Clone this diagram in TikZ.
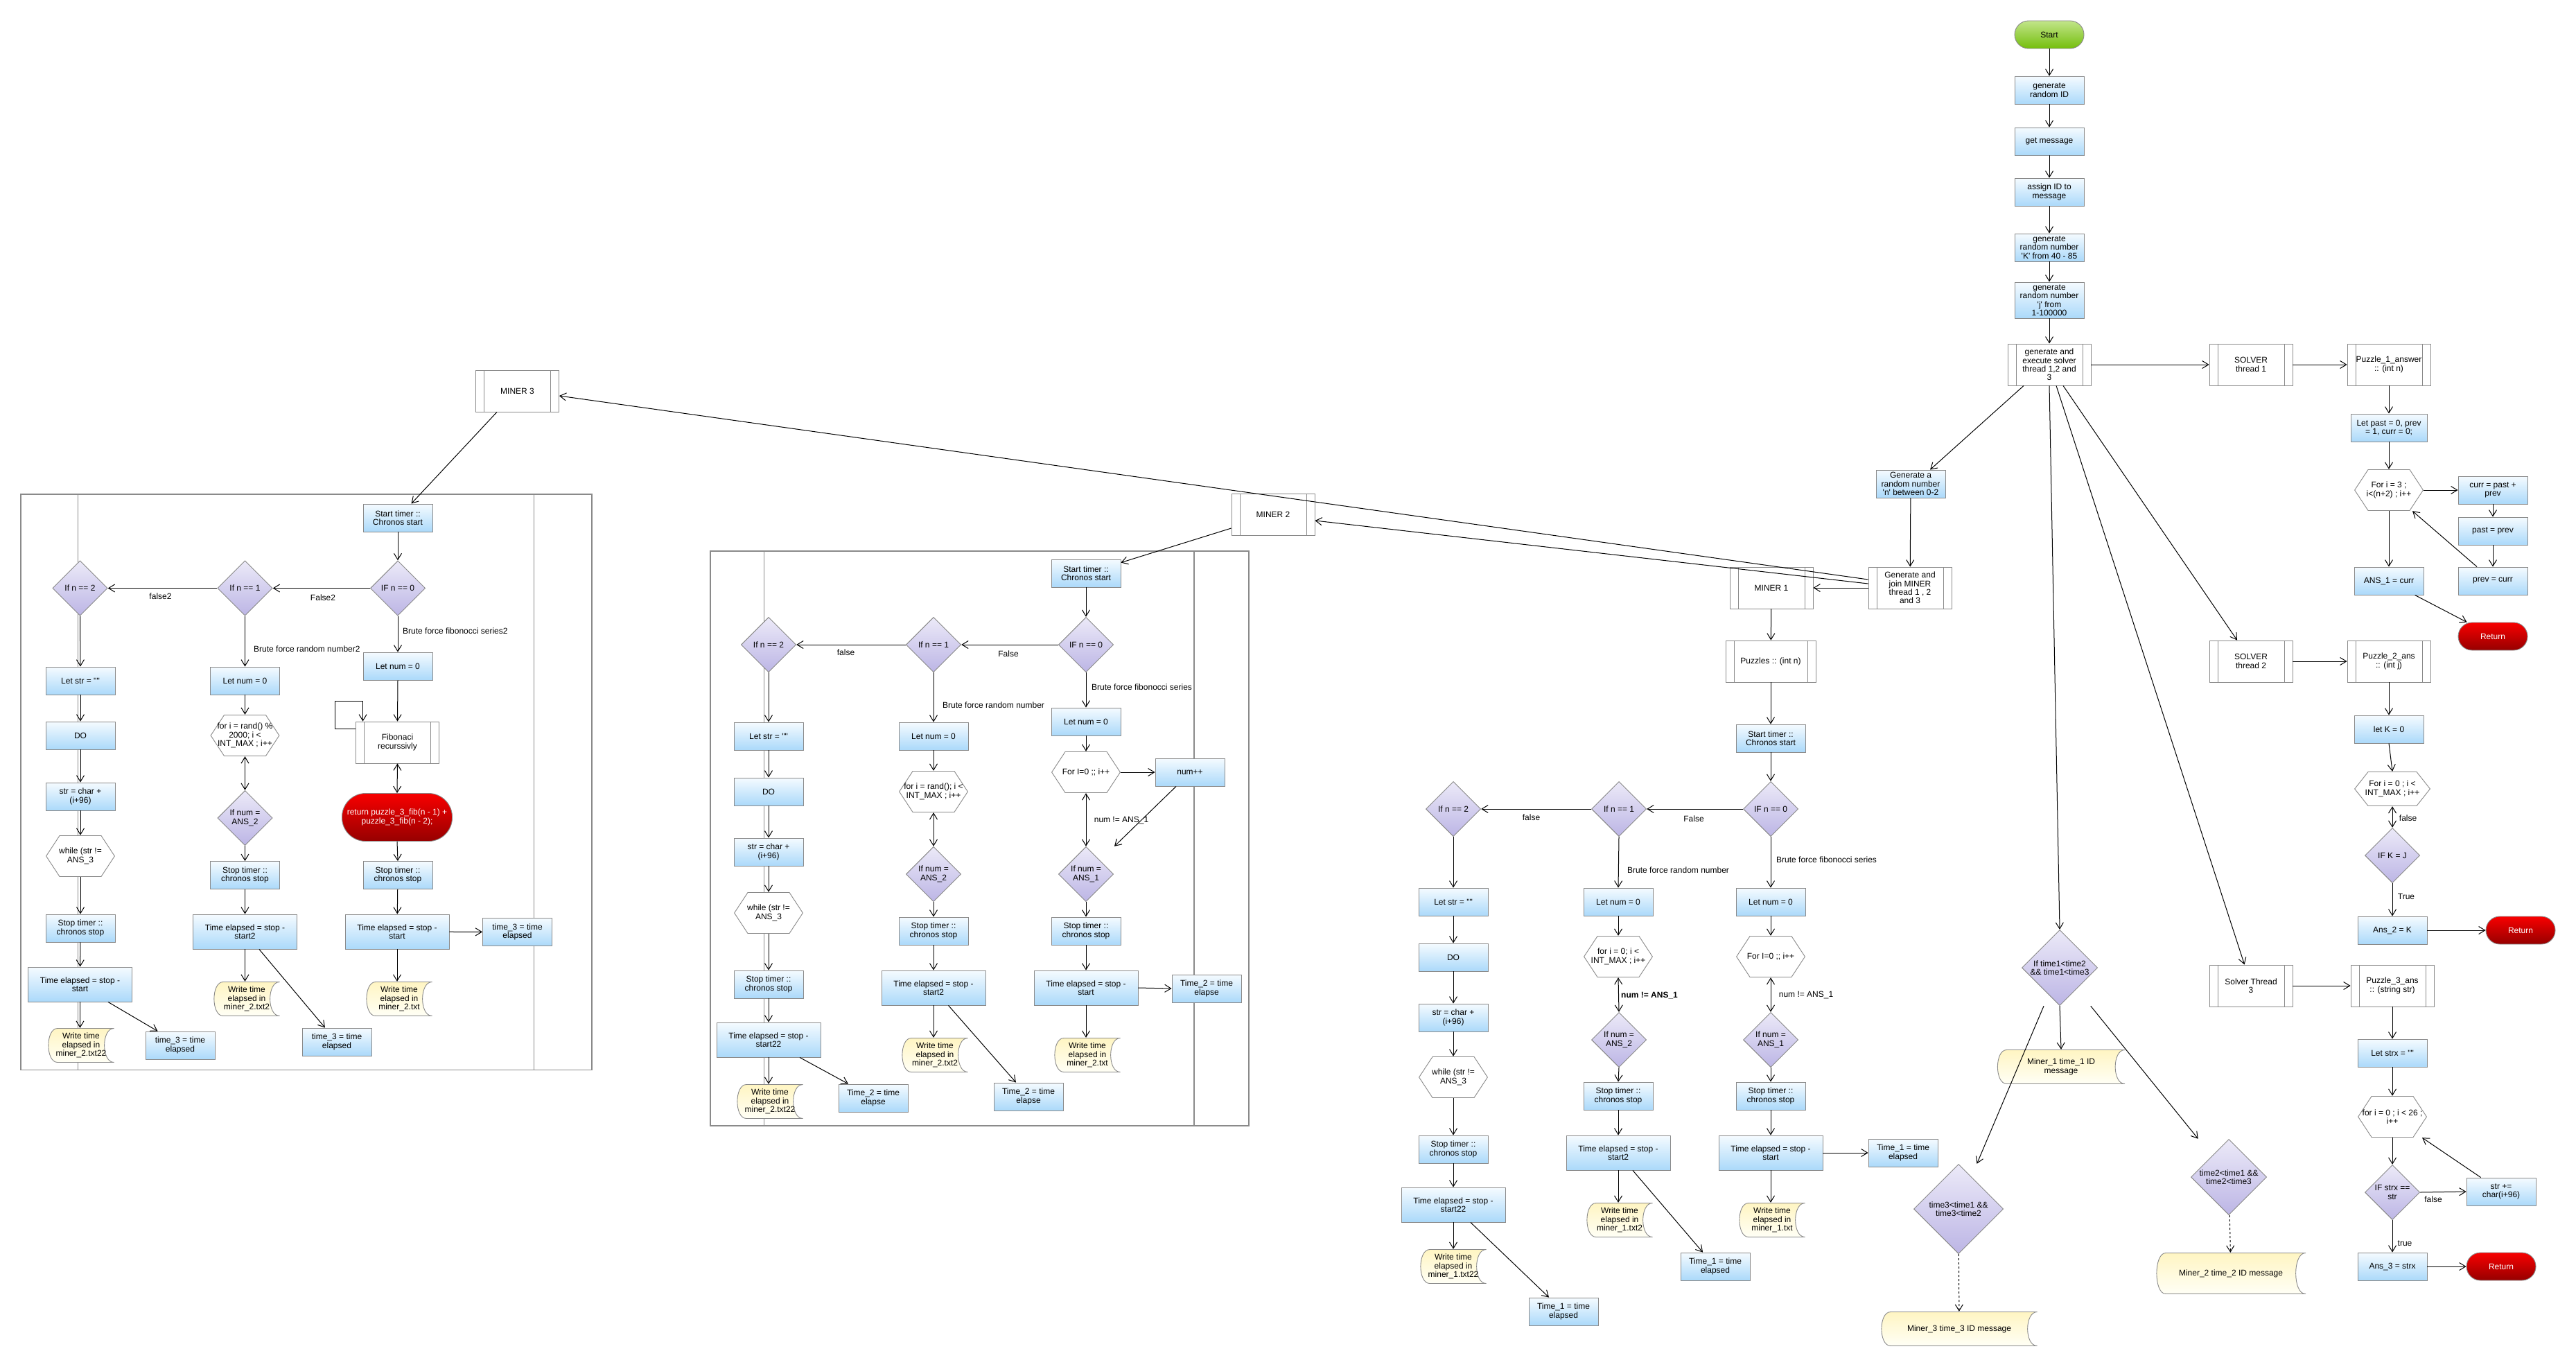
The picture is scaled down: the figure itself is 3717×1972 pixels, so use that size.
\documentclass[tikz,border=0pt]{standalone}
\usepackage{fontspec}
\setmainfont{Liberation Sans}
\usetikzlibrary{arrows.meta,calc}

\definecolor{bord}{HTML}{8A8A8A}
\definecolor{procTop}{HTML}{F5FBFF}
\definecolor{procBot}{HTML}{ABD9FA}
\definecolor{diaTop}{HTML}{ECEAF8}
\definecolor{diaBot}{HTML}{BCB5E5}
\definecolor{stTop}{HTML}{FFF5C2}
\definecolor{stBot}{HTML}{FFFFF6}
\definecolor{goTop}{HTML}{C2E58A}
\definecolor{goBot}{HTML}{74BE0C}
\definecolor{endTop}{HTML}{F80000}
\definecolor{endBot}{HTML}{960000}

\newcommand{\fs}{\fontsize{12pt}{12.4pt}\selectfont}
\newcommand{\dq}{\textquotedbl}
\newcommand{\sq}{\textquotesingle}

\tikzset{
  txt/.style={font=\fs, align=center, inner sep=0pt, text=black},
  proc/.style={txt, rectangle, draw=bord, line width=0.9pt, top color=procTop, bottom color=procBot,
    minimum width=100pt, minimum height=40pt},
  pill/.style={txt, rectangle, rounded corners=20pt, draw=bord, line width=0.9pt,
    minimum width=100pt, minimum height=40pt},
  go/.style={pill, top color=goTop, bottom color=goBot},
  halt/.style={pill, top color=endTop, bottom color=endBot, text=white},
  sub/.style={txt, rectangle, draw=bord, line width=0.9pt, fill=white,
    minimum width=120pt, minimum height=60pt,
    path picture={\draw[bord, line width=0.9pt]
      ([xshift=12pt]path picture bounding box.north west) -- ([xshift=12pt]path picture bounding box.south west)
      ([xshift=-12pt]path picture bounding box.north east) -- ([xshift=-12pt]path picture bounding box.south east);}},
  hexa/.style={txt, minimum width=100pt, minimum height=60pt,
    path picture={\filldraw[fill=white, draw=bord, line width=0.9pt]
      ([xshift=0.6pt]path picture bounding box.west)
      -- ([shift={(20pt,-0.5pt)}]path picture bounding box.north west)
      -- ([shift={(-20pt,-0.5pt)}]path picture bounding box.north east)
      -- ([xshift=-0.6pt]path picture bounding box.east)
      -- ([shift={(-20pt,0.5pt)}]path picture bounding box.south east)
      -- ([shift={(20pt,0.5pt)}]path picture bounding box.south west) -- cycle;}},
  dia/.style={txt, minimum width=80pt, minimum height=80pt,
    path picture={\shadedraw[top color=diaTop, bottom color=diaBot, draw=bord, line width=0.9pt]
      ([yshift=-0.6pt]path picture bounding box.north)
      -- ([xshift=-0.6pt]path picture bounding box.east)
      -- ([yshift=0.6pt]path picture bounding box.south)
      -- ([xshift=0.6pt]path picture bounding box.west) -- cycle;}},
  store/.style={txt, minimum width=96pt, minimum height=50pt,
    path picture={\shadedraw[top color=stTop, bottom color=stBot, draw=bord, line width=0.9pt]
      ([shift={(14pt,-0.5pt)}]path picture bounding box.north west)
      -- ([shift={(-0.5pt,-0.5pt)}]path picture bounding box.north east)
      .. controls ([shift={(-19pt,-0.5pt)}]path picture bounding box.north east)
         and ([shift={(-19pt,0.5pt)}]path picture bounding box.south east)
      .. ([shift={(-0.5pt,0.5pt)}]path picture bounding box.south east)
      -- ([shift={(14pt,0.5pt)}]path picture bounding box.south west)
      .. controls ([shift={(-3.5pt,0.5pt)}]path picture bounding box.south west)
         and ([shift={(-3.5pt,-0.5pt)}]path picture bounding box.north west)
      .. ([shift={(14pt,-0.5pt)}]path picture bounding box.north west) -- cycle;}},
  lbl/.style={font=\fs, inner sep=0pt},
  conn/.style={line width=1pt, -{Straight Barb[length=9pt,width=11pt]}},
  twoway/.style={line width=1pt, {Straight Barb[length=9pt,width=11pt]}-{Straight Barb[length=9pt,width=11pt]}},
  frame/.style={draw=bord, line width=1.1pt},
}

\begin{document}
\begin{tikzpicture}[x=1pt, y=-1pt]
\fill[white] (0,0) rectangle (3717,1972);
\useasboundingbox (0,0) rectangle (3717,1972);

% ---------- frames around the miner 2 and miner 3 flows ----------
\draw[frame] (1025,795) rectangle (1802,1624);
\draw[frame] (1102.7,795) -- (1102.7,1624) (1723,795) -- (1723,1624);
\draw[frame] (30,713) rectangle (854,1543.5);
\draw[frame] (112.4,713) -- (112.4,1543.5) (770.6,713) -- (770.6,1543.5);

% ---------- main program ----------
\node[go]   (start)  at (2957,50)  {Start};
\node[proc] (genid)  at (2957,130) {generate\\random ID};
\node[proc] (getmsg) at (2957,204) {get message};
\node[proc] (assign) at (2957,277) {assign ID to\\message};
\node[proc] (genk)   at (2957,357) {generate\\random number\\\sq K\sq\ from 40 - 85};
\node[proc, minimum height=52pt] (genj) at (2957,433) {generate\\random number\\\sq j\sq\ from\\1-100000};
\node[sub]  (genexec) at (2957,526) {generate and\\execute solver\\thread 1,2 and\\3};

% solver thread 1
\node[sub]  (solver1) at (3248,526) {SOLVER\\thread 1};
\node[sub]  (puz1)    at (3447,526) {Puzzle\_1\_answer\\:: (int n)};
\node[proc, minimum width=110pt] (letpast) at (3447,617) {Let past = 0, prev\\= 1, curr = 0;};
\node[hexa] (for1)    at (3447,707) {For i = 3 ;\\i<(n+2) ; i++};
\node[proc] (currbox) at (3597,707) {curr = past +\\prev};
\node[proc] (pastbox) at (3597,766) {past = prev};
\node[proc] (prevbox) at (3597,838) {prev = curr};
\node[proc] (ans1)    at (3447,838) {ANS\_1 = curr};
\node[halt] (ret1)    at (3597,918) {Return};

% solver thread 2
\node[sub]  (solver2) at (3248,954) {SOLVER\\thread 2};
\node[sub]  (puz2)    at (3447,954) {Puzzle\_2\_ans\\:: (int j)};
\node[proc] (letk)    at (3447,1052) {let K = 0};
\node[hexa, minimum width=110pt, minimum height=50pt] (for2) at (3452,1138) {For i = 0 ; i <\\INT\_MAX ; i++};
\node[dia]  (ifkj)    at (3452,1234) {IF K = J};
\node[proc] (ans2)    at (3452,1342) {Ans\_2 = K};
\node[halt] (ret2)    at (3637,1342) {Return};

% solver thread 3
\node[sub]  (solver3) at (3248,1422) {Solver Thread\\3};
\node[sub]  (puz3)    at (3452,1422) {Puzzle\_3\_ans\\:: (string str)};
\node[proc] (letstrx) at (3452,1519) {Let strx = \dq\dq};
\node[hexa] (for3)    at (3452,1611) {for i = 0 ; i < 26 ;\\i++};
\node[dia]  (ifstrx)  at (3452,1720) {IF strx ==\\str};
\node[proc] (strplus) at (3609,1719) {str +=\\char(i+96)};
\node[proc] (ans3)    at (3452,1827) {Ans\_3 = strx};
\node[halt] (ret3)    at (3609,1827) {Return};

% comparison of the miner times
\node[dia, minimum width=110pt, minimum height=110pt] (ift1) at (2972,1396) {If time1<time2\\\&\& time1<time3};
\node[store, minimum width=185pt] (msg1) at (2974,1539) {Miner\_1 time\_1 ID\\message};
\node[dia, minimum width=110pt, minimum height=110pt] (ift2) at (3216,1698) {time2<time1 \&\&\\time2<time3};
\node[store, minimum width=216pt, minimum height=60pt] (msg2) at (3219,1837) {Miner\_2 time\_2 ID message};
\node[dia, minimum width=130pt, minimum height=130pt] (ift3) at (2826,1744) {time3<time1 \&\&\\time3<time2};
\node[store, minimum width=226pt] (msg3) at (2827,1917) {Miner\_3 time\_3 ID message};

% miner threads
\node[proc] (genn)   at (2757,698) {Generate a\\random number\\\sq n\sq\ between 0-2};
\node[sub]  (join)   at (2756,848) {Generate and\\join MINER\\thread 1 , 2\\and 3};
\node[sub]  (miner1) at (2556,848) {MINER 1};
\node[sub]  (miner2) at (1837,742) {MINER 2};
\node[sub]  (miner3) at (746.5,564) {MINER 3};

% ---------- miner 1 ----------
\node[sub, minimum width=130pt] (puzzles) at (2555,954) {Puzzles :: (int n)};
\node[proc] (m1start) at (2555,1065) {Start timer ::\\Chronos start};
\node[dia]  (m1if0)   at (2555,1167) {IF n == 0};
\node[dia]  (m1if1)   at (2336,1167) {If n == 1};
\node[dia]  (m1if2)   at (2097,1167) {If n == 2};
\node[proc] (m1str)   at (2097,1301) {Let str = \dq\dq};
\node[proc] (m1num1)  at (2335,1301) {Let num = 0};
\node[proc] (m1num0)  at (2555,1301) {Let num = 0};
\node[proc] (m1do)    at (2097,1381) {DO};
\node[hexa] (m1for1)  at (2335,1380) {for i = 0; i <\\INT\_MAX ; i++};
\node[hexa] (m1for0)  at (2555,1380) {For I=0 ;; i++};
\node[proc] (m1chr)   at (2097,1468) {str = char +\\(i+96)};
\node[dia]  (m1ifa2)  at (2336,1500) {If num =\\ANS\_2};
\node[dia]  (m1ifa1)  at (2555,1500) {If num =\\ANS\_1};
\node[hexa] (m1while) at (2097,1554) {while (str !=\\ANS\_3};
\node[proc] (m1stop1) at (2335,1581) {Stop timer ::\\chronos stop};
\node[proc] (m1stop0) at (2555,1581) {Stop timer ::\\chronos stop};
\node[proc] (m1stop2) at (2097,1658) {Stop timer ::\\chronos stop};
\node[proc, minimum width=150pt, minimum height=50pt] (m1el1) at (2335,1663) {Time elapsed = stop -\\start2};
\node[proc, minimum width=150pt, minimum height=50pt] (m1el0) at (2555,1663) {Time elapsed = stop -\\start};
\node[proc, minimum width=150pt, minimum height=50pt] (m1el2) at (2097,1738) {Time elapsed = stop -\\start22};
\node[store] (m1w1) at (2337,1760) {Write time\\elapsed in\\miner\_1.txt2};
\node[store] (m1w0) at (2557,1760) {Write time\\elapsed in\\miner\_1.txt};
\node[store] (m1w2) at (2097,1827) {Write time\\elapsed in\\miner\_1.txt22};
\node[proc] (m1t0) at (2746,1663) {Time\_1 = time\\elapsed};
\node[proc] (m1t1) at (2475,1827) {Time\_1 = time\\elapsed};
\node[proc] (m1t2) at (2256,1892) {Time\_1 = time\\elapsed};

\node[lbl] (m1lab1) at (2444,1181) {False};
\node[lbl] (m1lab2) at (2209.5,1179) {false};
\node[lbl, anchor=west] (m1lab3) at (2563,1240) {Brute force fibonocci series};
\node[lbl, anchor=west] (m1lab4) at (2348,1255) {Brute force random number};
\node[lbl, font=\fs\bfseries] (m1lab5) at (2380,1436) {num != ANS\_1};
\node[lbl] (m1lab6) at (2606,1435) {num != ANS\_1};

% ---------- miner 2 ----------
\node[proc] (m2start) at (1567,827) {Start timer ::\\Chronos start};
\node[dia]  (m2if0)   at (1567,930) {IF n == 0};
\node[dia]  (m2if1)   at (1347,930) {If n == 1};
\node[dia]  (m2if2)   at (1109,930) {If n == 2};
\node[proc] (m2num0)  at (1567,1041) {Let num = 0};
\node[hexa] (m2for0)  at (1567,1114) {For I=0 ;; i++};
\node[proc] (m2inc)   at (1717,1114) {num++};
\node[dia]  (m2ifa1)  at (1567,1261) {If num =\\ANS\_1};
\node[proc] (m2str)   at (1109,1062) {Let str = \dq\dq};
\node[proc] (m2num1)  at (1347,1062) {Let num = 0};
\node[proc] (m2do)    at (1109,1142) {DO};
\node[hexa] (m2for1)  at (1347,1142) {for i = rand(); i <\\INT\_MAX ; i++};
\node[proc] (m2chr)   at (1109,1229) {str = char +\\(i+96)};
\node[dia]  (m2ifa2)  at (1347,1261) {If num =\\ANS\_2};
\node[hexa] (m2while) at (1109,1317) {while (str !=\\ANS\_3};
\node[proc] (m2stop1) at (1347,1343) {Stop timer ::\\chronos stop};
\node[proc] (m2stop0) at (1567,1343) {Stop timer ::\\chronos stop};
\node[proc] (m2stop2) at (1109,1420) {Stop timer ::\\chronos stop};
\node[proc, minimum width=150pt, minimum height=50pt] (m2el1) at (1347,1425) {Time elapsed = stop -\\start2};
\node[proc, minimum width=150pt, minimum height=50pt] (m2el0) at (1567,1425) {Time elapsed = stop -\\start};
\node[proc, minimum width=150pt, minimum height=50pt] (m2el2) at (1109,1500) {Time elapsed = stop -\\start22};
\node[store] (m2w1) at (1349,1522) {Write time\\elapsed in\\miner\_2.txt2};
\node[store] (m2w0) at (1569,1522) {Write time\\elapsed in\\miner\_2.txt};
\node[store] (m2w2) at (1111,1589) {Write time\\elapsed in\\miner\_2.txt22};
\node[proc] (m2t0) at (1741,1426) {Time\_2 = time\\elapse};
\node[proc] (m2t1) at (1484,1582) {Time\_2 = time\\elapse};
\node[proc] (m2t2) at (1260,1584) {Time\_2 = time\\elapse};

\node[lbl] (m2lab1) at (1455,943) {False};
\node[lbl] (m2lab2) at (1220.5,941) {false};
\node[lbl, anchor=west] (m2lab3) at (1575,991) {Brute force fibonocci series};
\node[lbl, anchor=west] (m2lab4) at (1360,1017) {Brute force random number};
\node[lbl] (m2lab5) at (1618,1183) {num != ANS\_1};

% ---------- miner 3 ----------
\node[proc] (m3start) at (574,747) {Start timer ::\\Chronos start};
\node[dia]  (m3if0)   at (574,848.5) {IF n == 0};
\node[dia]  (m3if1)   at (353.5,848.5) {If n == 1};
\node[dia]  (m3if2)   at (115.5,848.5) {If n == 2};
\node[proc] (m3num0)  at (574,961) {Let num = 0};
\node[proc] (m3str)   at (116,982) {Let str = \dq\dq};
\node[proc] (m3num1)  at (353.5,982) {Let num = 0};
\node[sub]  (m3fib)   at (573.5,1071) {Fibonaci\\recurssivly};
\node[proc] (m3do)    at (116,1061) {DO};
\node[hexa] (m3for1)  at (353.5,1061) {for i = rand() \%\\2000; i <\\INT\_MAX ; i++};
\node[proc] (m3chr)   at (116,1149) {str = char +\\(i+96)};
\node[dia]  (m3ifa2)  at (353.5,1180) {If num =\\ANS\_2};
\node[halt, minimum width=159pt, minimum height=69pt, rounded corners=34pt] (m3ret) at (573,1179)
  {return puzzle\_3\_fib(n - 1) +\\puzzle\_3\_fib(n - 2);};
\node[hexa] (m3while) at (116,1235) {while (str !=\\ANS\_3};
\node[proc] (m3stop1) at (353.5,1262.5) {Stop timer ::\\chronos stop};
\node[proc] (m3stop0) at (574,1262.5) {Stop timer ::\\chronos stop};
\node[proc] (m3stop2) at (116,1339) {Stop timer ::\\chronos stop};
\node[proc, minimum width=150pt, minimum height=50pt] (m3el1) at (353.5,1344) {Time elapsed = stop -\\start2};
\node[proc, minimum width=150pt, minimum height=50pt] (m3el0) at (573,1344) {Time elapsed = stop -\\start};
\node[proc, minimum width=150pt, minimum height=50pt] (m3el2) at (115.5,1420) {Time elapsed = stop -\\start};
\node[store] (m3w1) at (356,1441) {Write time\\elapsed in\\miner\_2.txt2};
\node[store] (m3w0) at (576,1441) {Write time\\elapsed in\\miner\_2.txt};
\node[store] (m3w2) at (117,1508) {Write time\\elapsed in\\miner\_2.txt22};
\node[proc] (m3t0) at (746.5,1344.5) {time\_3 = time\\elapsed};
\node[proc] (m3t1) at (486,1503) {time\_3 = time\\elapsed};
\node[proc] (m3t2) at (260,1508) {time\_3 = time\\elapsed};

\node[lbl] (m3lab1) at (466,862) {False2};
\node[lbl] (m3lab2) at (231.5,860) {false2};
\node[lbl, anchor=west] (m3lab3) at (581,910) {Brute force fibonocci series2};
\node[lbl, anchor=west] (m3lab4) at (366,936) {Brute force random number2};

% solver labels
\node[lbl] (s2lab1) at (3474.6,1180) {false};
\node[lbl] (s2lab2) at (3472,1293) {True};
\node[lbl] (s3lab1) at (3511,1730) {false};
\node[lbl] (s3lab2) at (3470,1794) {true};

% ---------- connectors: main program ----------
\draw[conn] (start) -- (genid);
\draw[conn] (genid) -- (getmsg);
\draw[conn] (getmsg) -- (assign);
\draw[conn] (assign) -- (genk);
\draw[conn] (genk) -- (genj);
\draw[conn] (genj) -- (genexec);
\draw[conn] (genexec) -- (solver1);
\draw[conn] (solver1) -- (puz1);
\draw[conn] (puz1) -- (letpast);
\draw[conn] (letpast) -- (for1);
\draw[conn] (for1) -- (currbox);
\draw[conn] (currbox) -- (pastbox);
\draw[conn] (pastbox) -- (prevbox);
\draw[conn] (for1) -- (ans1);
\draw[conn] ($(prevbox.north)+(-23,0)$) -- ($(for1.south)+(34,0)$);
\draw[conn] ($(ans1.south)+(37.5,0)$) -- ($(ret1.north west)+(13,0)$);

\draw[conn] ($(genexec.south)+(20,0)$) -- ($(solver2.north)+(-20,0)$);
\draw[conn] ($(genexec.south)+(10,0)$) -- ($(solver3.north)+(-9.4,0)$);
\draw[conn] (genexec.south) -- (ift1.north);
\draw[conn] ($(genexec.south)+(-37,0)$) -- ($(genn.north)+(28,0)$);

\draw[conn] (solver2) -- (puz2);
\draw[conn] (puz2) -- (letk);
\draw[conn] (letk.south) -- (for2.north);
\draw[twoway] (for2) -- (ifkj);
\draw[conn] (ifkj) -- (ans2);
\draw[conn] (ans2) -- (ret2);

\draw[conn] (solver3) -- (puz3);
\draw[conn] (puz3) -- (letstrx);
\draw[conn] (letstrx) -- (for3);
\draw[conn] (for3) -- (ifstrx);
\draw[conn] (ifstrx.east) -- (strplus.west);
\draw[conn] ($(strplus.north)+(-29.4,0)$) -- ($(for3.south)+(43,0)$);
\draw[conn] (ifstrx) -- (ans3);
\draw[conn] (ans3) -- (ret3);

\draw[conn] (ift1.south) -- (msg1.north);
\draw[conn] ($(ift1.south)+(-23,0)$) -- ($(ift3.north)+(26.5,0)$);
\draw[conn] ($(ift1.south)+(44.7,0)$) -- ($(ift2.north)+(-44.3,0)$);
\draw[conn, dashed] (ift2) -- (msg2);
\draw[conn, dashed] (ift3) -- (msg3);

\draw[conn] (genn) -- (join);
\draw[conn] (join) -- (miner1);
\draw[conn] ($(join.west)+(0,-6)$) -- ($(miner2.east)+(0,9)$);
\draw[conn] ($(join.west)+(0,-12)$) -- ($(miner3.east)+(0,7)$);

% ---------- connectors: miner 1 ----------
\draw[conn] (miner1) -- (puzzles);
\draw[conn] (puzzles) -- (m1start);
\draw[conn] (m1start) -- (m1if0);
\draw[conn] (m1if0) -- (m1if1);
\draw[conn] (m1if1) -- (m1if2);
\draw[conn] (m1if0) -- (m1num0);
\draw[conn] (m1if1.south) -- (m1num1.north);
\draw[conn] (m1if2) -- (m1str);
\draw[conn] (m1num0) -- (m1for0);
\draw[twoway] (m1for0) -- (m1ifa1);
\draw[conn] (m1ifa1) -- (m1stop0);
\draw[conn] (m1stop0) -- (m1el0);
\draw[conn] (m1el0) -- (m1w0.north -| m1el0);
\draw[conn] (m1el0) -- (m1t0);
\draw[conn] (m1num1) -- (m1for1);
\draw[twoway] (m1for1.south) -- (m1ifa2.north);
\draw[conn] (m1ifa2.south) -- (m1stop1.north);
\draw[conn] (m1stop1) -- (m1el1);
\draw[conn] (m1el1) -- (m1w1.north -| m1el1);
\draw[conn] ($(m1el1.south)+(21,0)$) -- ($(m1t1.north)+(-18,0)$);
\draw[conn] (m1str) -- (m1do);
\draw[conn] (m1do) -- (m1chr);
\draw[conn] (m1chr) -- (m1while);
\draw[conn] (m1while) -- (m1stop2);
\draw[conn] (m1stop2) -- (m1el2);
\draw[conn] (m1el2) -- (m1w2);
\draw[conn] ($(m1el2.south)+(25,0)$) -- ($(m1t2.north)+(-21,0)$);

% ---------- connectors: miner 2 ----------
\draw[conn] ($(miner2.west)+(0,20)$) -- ($(m2start.north east)+(0,5)$);
\draw[conn] (m2start) -- (m2if0);
\draw[conn] (m2if0) -- (m2if1);
\draw[conn] (m2if1) -- (m2if2);
\draw[conn] (m2if0) -- (m2num0);
\draw[conn] (m2if1) -- (m2num1);
\draw[conn] (m2if2) -- (m2str);
\draw[conn] (m2num0) -- (m2for0);
\draw[conn] (m2for0) -- (m2inc);
\draw[conn] ($(m2inc.south)+(-20,0)$) -- ($(m2ifa1.north)+(41,0)$);
\draw[twoway] (m2for0) -- (m2ifa1);
\draw[conn] (m2ifa1) -- (m2stop0);
\draw[conn] (m2stop0) -- (m2el0);
\draw[conn] (m2el0) -- (m2w0.north -| m2el0);
\draw[conn] (m2el0.east) -- (m2t0.west);
\draw[conn] (m2num1) -- (m2for1);
\draw[twoway] (m2for1) -- (m2ifa2);
\draw[conn] (m2ifa2) -- (m2stop1);
\draw[conn] (m2stop1) -- (m2el1);
\draw[conn] (m2el1) -- (m2w1.north -| m2el1);
\draw[conn] ($(m2el1.south)+(21.5,0)$) -- ($(m2t1.north)+(-18,0)$);
\draw[conn] (m2str) -- (m2do);
\draw[conn] (m2do) -- (m2chr);
\draw[conn] (m2chr) -- (m2while);
\draw[conn] (m2while) -- (m2stop2);
\draw[conn] (m2stop2) -- (m2el2);
\draw[conn] (m2el2) -- (m2w2.north -| m2el2);
\draw[conn] ($(m2el2.south)+(45,0)$) -- ($(m2t2.north)+(-36,0)$);

% ---------- connectors: miner 3 ----------
\draw[conn] ($(miner3.south)+(-29.5,0)$) -- ($(m3start.north)+(19.5,0)$);
\draw[conn] (m3start) -- (m3if0);
\draw[conn] (m3if0) -- (m3if1);
\draw[conn] (m3if1) -- (m3if2);
\draw[conn] (m3if0) -- (m3num0);
\draw[conn] (m3if1) -- (m3num1);
\draw[conn] (m3if2.south) -- (m3str.north);
\draw[conn] (m3num0.south) -- (m3fib.north);
\draw[conn] ($(m3fib.west)+(0,-20)$) -- ++(-30,0) -- ++(0,-40) -| ($(m3fib.north west)+(10.5,0)$);
\draw[twoway] (m3fib.south) -- (m3ret.north);
\draw[conn] (m3ret.south) -- (m3stop0.north);
\draw[conn] (m3stop0) -- (m3el0);
\draw[conn] (m3el0) -- (m3w0.north -| m3el0);
\draw[conn] (m3el0) -- (m3t0);
\draw[conn] (m3num1) -- (m3for1);
\draw[twoway] (m3for1) -- (m3ifa2);
\draw[conn] (m3ifa2) -- (m3stop1);
\draw[conn] (m3stop1) -- (m3el1);
\draw[conn] (m3el1) -- (m3w1.north -| m3el1);
\draw[conn] ($(m3el1.south)+(20.5,0)$) -- ($(m3t1.north)+(-17,0)$);
\draw[conn] (m3str) -- (m3do);
\draw[conn] (m3do) -- (m3chr);
\draw[conn] (m3chr) -- (m3while);
\draw[conn] (m3while) -- (m3stop2);
\draw[conn] (m3stop2) -- (m3el2);
\draw[conn] (m3el2) -- (m3w2.north -| m3el2);
\draw[conn] ($(m3el2.south)+(40.5,0)$) -- ($(m3t2.north)+(-32.4,0)$);
\end{tikzpicture}
\end{document}
